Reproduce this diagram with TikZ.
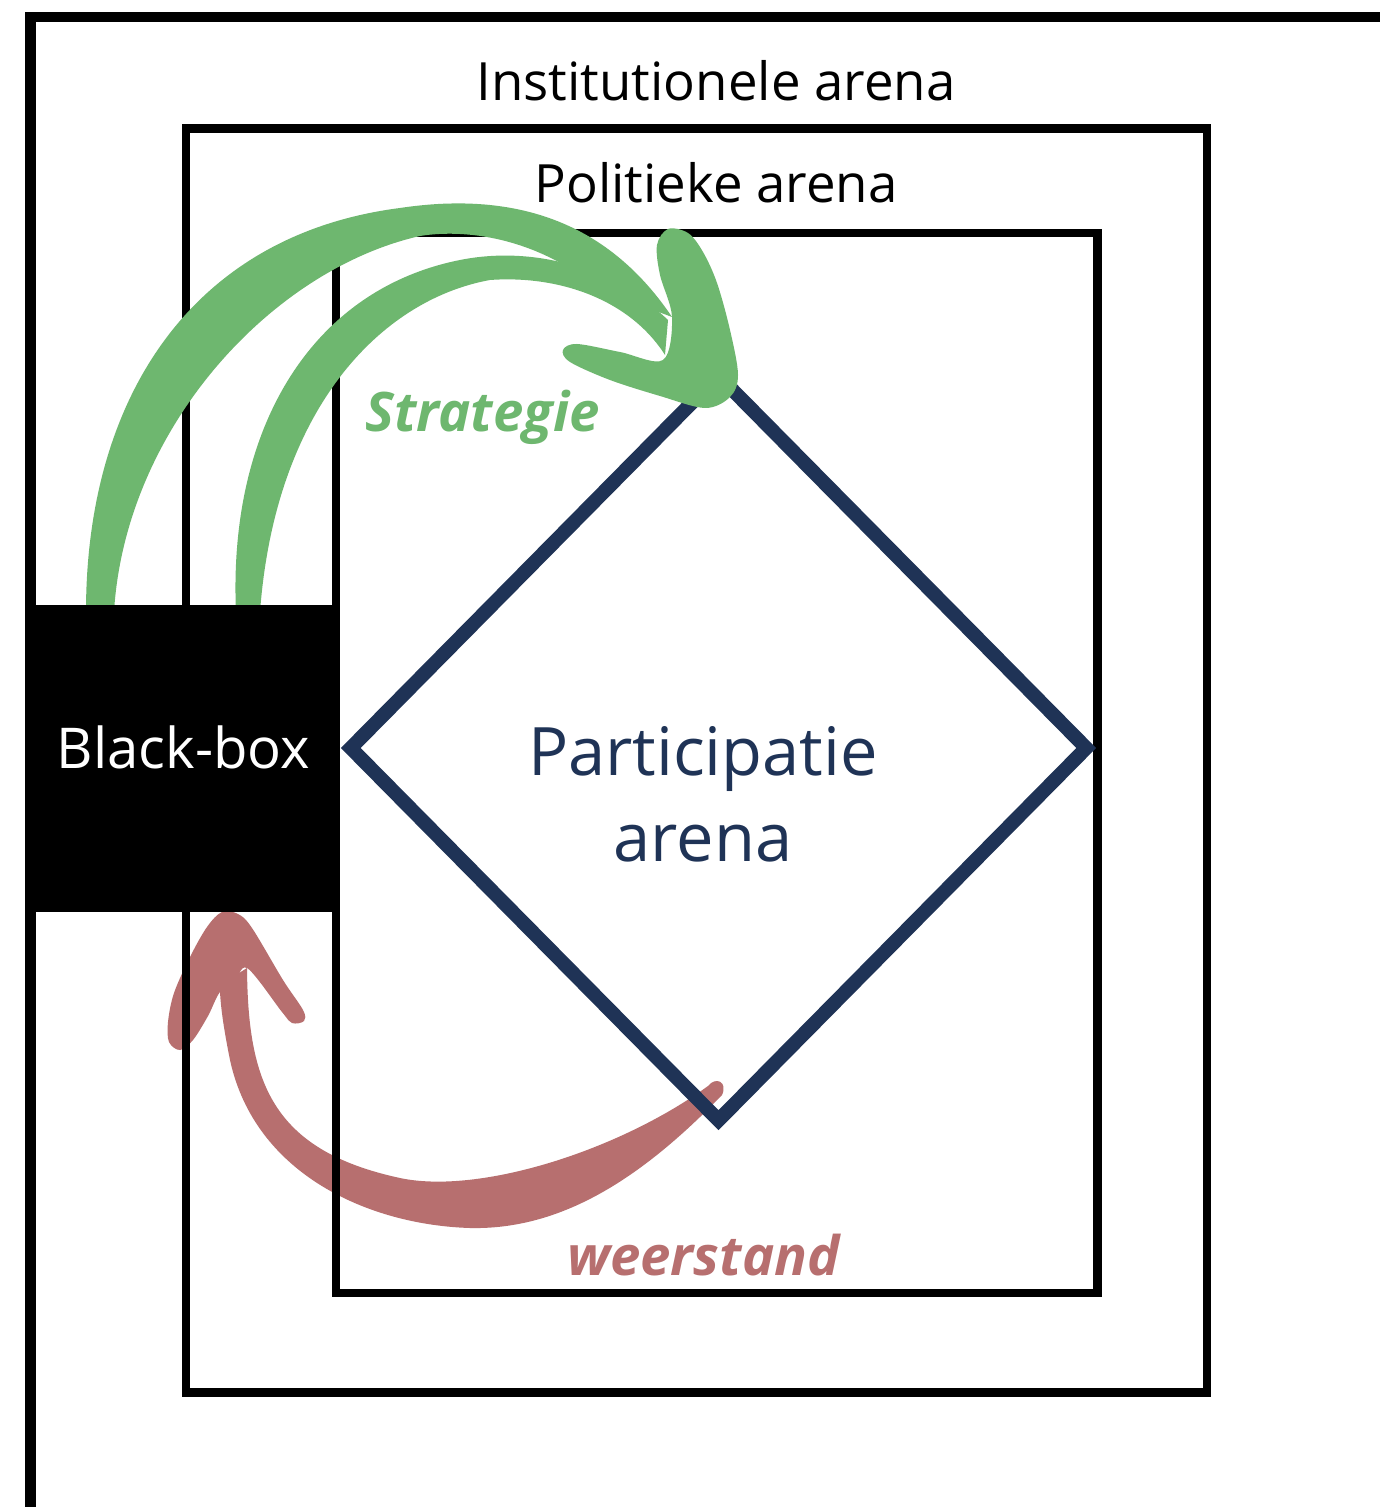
\documentclass[tikz,border=0pt]{standalone}
\usepackage{fontspec}
\setmainfont{Open Sans}
\usetikzlibrary{positioning, shapes.geometric}
\definecolor{arenagreen}{RGB}{110,183,111}
\definecolor{arenared}{RGB}{183,111,111}
\definecolor{arenanavy}{RGB}{31,51,86}

\begin{document}
\begin{tikzpicture}[x=0.01cm, y=-0.01cm,
        frame/.style={draw=black, line width=#1},
        lbl/.style={anchor=base, inner sep=0pt, font=\fontsize{15pt}{18pt}\selectfont},
        tag/.style={anchor=base, inner sep=0pt, text=#1, font=\fontsize{15.5pt}{18pt}\selectfont\bfseries\itshape}]
            \useasboundingbox (0,0) rectangle (1380,1507);
            \clip (0,0) rectangle (1380,1507);
            \fill[white] (0,0) rectangle (1380,1507);
            \fill[arenared] (220,985) -- (220,992) .. controls (221,1010) and (224,1030) .. (230,1060) .. controls (255,1175) and (370,1225) .. (470,1228) .. controls (560,1230) and (640,1180) .. (722,1095) .. controls (728,1082) and (716,1076) .. (708,1086) .. controls (620,1150) and (480,1195) .. (400,1178) .. controls (270,1150) and (248,1080) .. (247,968) -- cycle;
            \fill[arenared] plot[smooth cycle, tension=0.55] coordinates {(220,992) (208,1016) (193,1040) (180,1050) (169,1042) (168,1022) (174,993) (190,957) (207,927) (222,912) (238,914) (252,928) (283,980) (303,1010) (304,1021) (292,1023) (282,1012) (247,968) (234,985)};
            \draw[frame=3.1pt] (30.5,17) rectangle (1400,1512);
            \draw[frame=2.4pt] (186,128.5) rectangle (1207,1392.5);
            \draw[frame=2.3pt] (336,233) rectangle (1097.5,1293);
            \node[diamond, draw=arenanavy, line width=4pt, inner sep=0pt, outer sep=0pt, minimum width=7.35cm, minimum height=7.44cm] (arena) at (718.5,748) {};
            \fill[arenagreen] (86,612) .. controls (86,400) and (190,235) .. (400,208) .. controls (520,190) and (610,225) .. (672,317) -- (600,290) .. controls (540,240) and (470,228) .. (420,236) .. controls (270,270) and (125,430) .. (114,612) -- cycle;
            \fill[arenagreen] (236,612) .. controls (228,430) and (310,290) .. (460,260) .. controls (530,246) and (610,265) .. (668,320) -- (665,355) .. controls (630,300) and (560,275) .. (490,280) .. controls (380,300) and (275,410) .. (260,612) -- cycle;
            \fill[arenagreen] plot[smooth cycle, tension=0.55] coordinates {(672,317) (660,275) (657,245) (668,229) (688,233) (703,252) (717,283) (730,330) (738,375) (730,397) (705,408) (660,396) (610,380) (570,362) (563,350) (577,344) (620,352) (663,360)};
            \node[fill=black, inner sep=0pt, minimum width=3.13cm, minimum height=3.07cm] (bb) at (181.5,758.5) {};
            \node[lbl, text=white, font=\fontsize{16pt}{18pt}\selectfont] (bbtext) at (183.5,768) {Black-box};
            \node[lbl] (inst) at (716,101) {Institutionele arena};
            \node[lbl] (pol) at (716,203) {Politieke arena};
            \node[lbl, text=arenanavy, font=\fontsize{19pt}{24pt}\selectfont] (part) at (703,775) {Participatie};
            \node[lbl, text=arenanavy, font=\fontsize{19pt}{24pt}\selectfont] (partb) at (703,861) {arena};
            \node[tag=arenagreen] (strat) at (482.5,432) {Strategie};
            \node[tag=arenared] (weer) at (703.5,1275) {weerstand};
\end{tikzpicture}
\end{document}
